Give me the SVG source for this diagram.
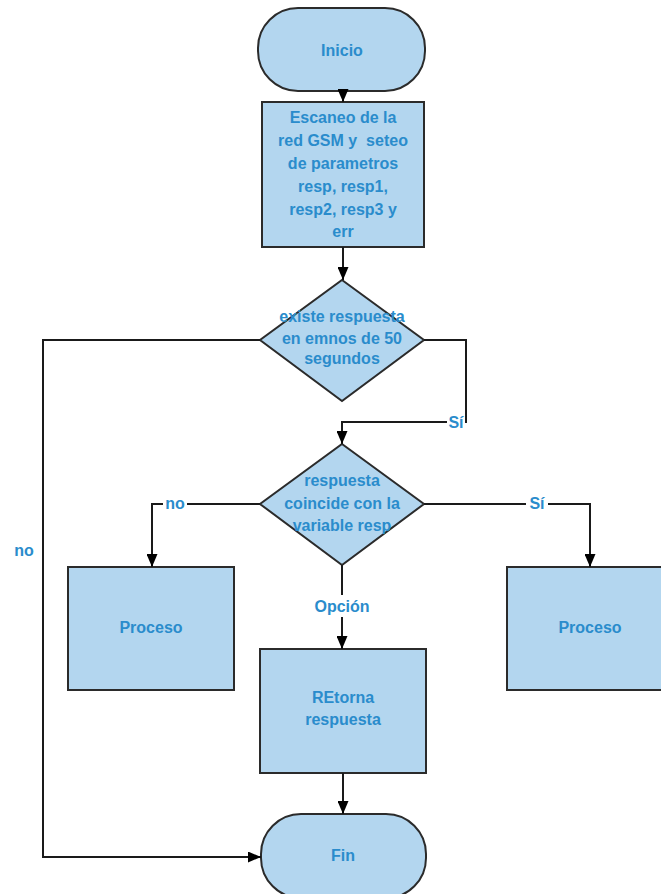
<svg xmlns="http://www.w3.org/2000/svg" width="661" height="894" viewBox="0 0 661 894">
  <style>
    .shape { fill: #b3d6ef; stroke: #2b2b2b; stroke-width: 2; }
    .txt { font-family: "Liberation Sans", Arial, sans-serif; font-weight: bold; font-size: 16px; fill: #2a8ccc; text-anchor: middle; }
    .lbl { font-family: "Liberation Sans", Arial, sans-serif; font-weight: bold; font-size: 16px; fill: #2a8ccc; text-anchor: middle; }
    .edge { fill: none; stroke: #1a1a1a; stroke-width: 2; }
    .lblbg { fill: #ffffff; }
  </style>
  <defs>
    <marker id="arrow" viewBox="0 0 13 11" refX="13" refY="5.5" markerWidth="13" markerHeight="11" orient="auto" markerUnits="userSpaceOnUse">
      <path d="M0,0 L13,5.5 L0,11 Z" fill="#000"/>
    </marker>
  </defs>
  <rect width="661" height="894" fill="#ffffff"/>

  <g id="inicio">
    <rect class="shape" x="258" y="8" width="167" height="83" rx="40" ry="40"/>
    <text class="txt" x="342" y="56">Inicio</text>
  </g>

  <g id="escaneo">
    <rect class="shape" x="262" y="102" width="162" height="145"/>
    <text class="txt" x="343" y="123">Escaneo de la</text>
    <text class="txt" x="343" y="146" xml:space="preserve">red GSM y  seteo</text>
    <text class="txt" x="343" y="169">de parametros</text>
    <text class="txt" x="343" y="192">resp, resp1,</text>
    <text class="txt" x="343" y="215">resp2, resp3 y</text>
    <text class="txt" x="343" y="237">err</text>
  </g>

  <g id="decision1">
    <polygon class="shape" points="342,280 424,340 342,401 260,340"/>
    <text class="txt" x="342" y="322">existe respuesta</text>
    <text class="txt" x="342" y="344">en emnos de 50</text>
    <text class="txt" x="342" y="364">segundos</text>
  </g>

  <g id="decision2">
    <polygon class="shape" points="342,444 424,504 342,565 260,504"/>
    <text class="txt" x="342" y="486">respuesta</text>
    <text class="txt" x="342" y="509">coincide con la</text>
    <text class="txt" x="342" y="531">variable resp</text>
  </g>

  <g id="proceso-no">
    <rect class="shape" x="68" y="567" width="166" height="123"/>
    <text class="txt" x="151" y="633">Proceso</text>
  </g>

  <g id="proceso-si">
    <rect class="shape" x="507" y="567" width="166" height="123"/>
    <text class="txt" x="590" y="633">Proceso</text>
  </g>

  <g id="retorna">
    <rect class="shape" x="260" y="649" width="166" height="124"/>
    <text class="txt" x="343" y="703">REtorna</text>
    <text class="txt" x="343" y="725">respuesta</text>
  </g>

  <g id="fin">
    <rect class="shape" x="261" y="814" width="165" height="84" rx="40" ry="40"/>
    <text class="txt" x="343" y="861">Fin</text>
  </g>

  <!-- connectors, drawn last so arrowheads sit over node borders -->
  <g id="connectors">
    <path class="edge" d="M343,91 L343,102" marker-end="url(#arrow)"/>
    <path class="edge" d="M343,247 L343,280" marker-end="url(#arrow)"/>
    <path class="edge" d="M424,340 L466,340 L466,422 L342,422 L342,444" marker-end="url(#arrow)"/>
    <path class="edge" d="M260,340 L43,340 L43,857 L261,857" marker-end="url(#arrow)"/>
    <path class="edge" d="M260,504 L152,504 L152,567" marker-end="url(#arrow)"/>
    <path class="edge" d="M424,504 L590,504 L590,567" marker-end="url(#arrow)"/>
    <path class="edge" d="M342,565 L342,649" marker-end="url(#arrow)"/>
    <path class="edge" d="M343,773 L343,814" marker-end="url(#arrow)"/>
    <!-- edge labels -->
    <rect class="lblbg" x="447" y="412" width="18" height="20"/>
    <text class="lbl" x="456" y="428">Sí</text>
    <rect class="lblbg" x="163" y="494" width="24" height="20"/>
    <text class="lbl" x="175" y="509">no</text>
    <rect class="lblbg" x="526" y="494" width="22" height="20"/>
    <text class="lbl" x="537" y="509">Sí</text>
    <rect class="lblbg" x="310" y="595" width="64" height="22"/>
    <text class="lbl" x="342" y="612">Opción</text>
    <text class="lbl" x="24" y="556">no</text>
  </g>
</svg>
